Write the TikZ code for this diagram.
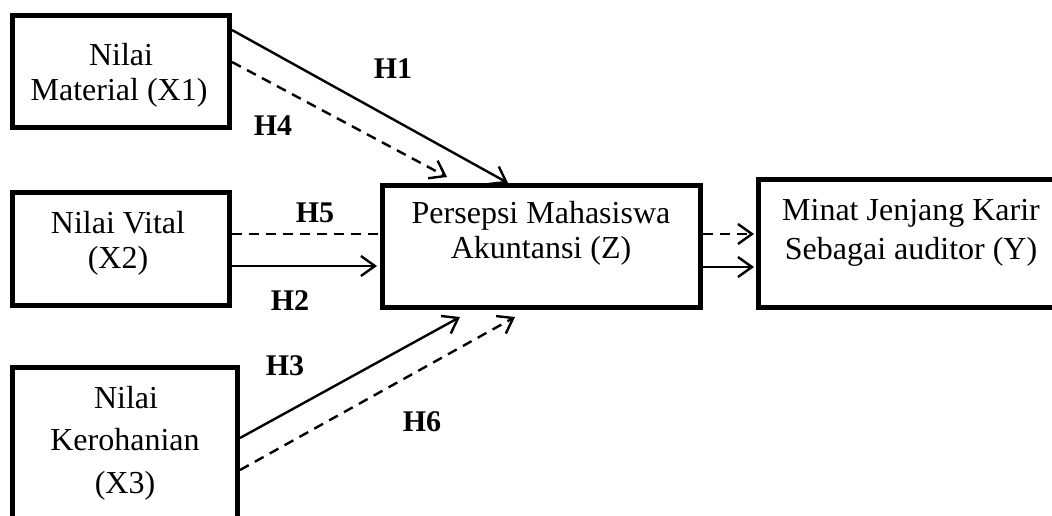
\documentclass[tikz,border=0pt]{standalone}
\usepackage{fontspec}
\setmainfont{Liberation Serif}
\usetikzlibrary{arrows.meta}
\begin{document}
\begin{tikzpicture}[x=0.5pt,y=-0.5pt,
  box/.style={draw, line width=2.5pt, inner sep=0pt},
  txt/.style={font=\fontsize{16}{19}\selectfont, anchor=base, inner sep=0pt},
  hyp/.style={font=\fontsize{15}{17}\selectfont\bfseries, inner sep=0pt},
  conn/.style={line width=1.2pt, -{Straight Barb[length=7pt,width=10pt,line width=1.2pt]}},
  dconn/.style={conn, dash pattern=on 5pt off 3.5pt},
  dline/.style={line width=1.2pt, dash pattern=on 5pt off 3.5pt},
]
\useasboundingbox (0,0) rectangle (1052,515);
\clip (0,0) rectangle (1052,515);

% boxes
\node[box, minimum width=108.5pt, minimum height=56pt] (X1) at (121,71.5) {};
\node[box, minimum width=108.5pt, minimum height=56.5pt] (X2) at (121,249) {};
\node[box, minimum width=112.5pt, minimum height=96.25pt] (X3) at (125,463.75) {};
\node[box, minimum width=159pt, minimum height=61pt] (Z) at (541.5,246.5) {};
\node[box, minimum width=155.75pt, minimum height=64pt] (Y) at (914.25,243.5) {};

% texts
\node[txt] (x1a) at (121,65) {Nilai};
\node[txt] (x1b) at (119,100) {Material (X1)};
\node[txt] (x2a) at (118,233) {Nilai Vital};
\node[txt] (x2b) at (118,268) {(X2)};
\node[txt] (x3a) at (126,408) {Nilai};
\node[txt] (x3b) at (125,450) {Kerohanian};
\node[txt] (x3c) at (125,493) {(X3)};
\node[txt] (za) at (541,223) {Persepsi Mahasiswa};
\node[txt] (zb) at (541,258) {Akuntansi (Z)};
\node[txt] (ya) at (911,220) {Minat Jenjang Karir};
\node[txt] (yb) at (911,259) {Sebagai auditor (Y)};

% connector end points
\coordinate (s1) at (232,30);   \coordinate (e1) at (508,183);
\coordinate (s4) at (232,62);   \coordinate (e4) at (447,177);
\coordinate (s5) at (232,234);  \coordinate (e5) at (380,234);
\coordinate (s2) at (232,266);  \coordinate (e2) at (377,266);
\coordinate (s3) at (240,438);  \coordinate (e3) at (460,317);
\coordinate (s6) at (240,470);  \coordinate (e6) at (515,317);
\coordinate (sa) at (703,234);  \coordinate (ea) at (754,234);
\coordinate (sb) at (703,267);  \coordinate (eb) at (754,267);

\draw[conn] (s1) -- (e1);
\draw[dconn] (s4) -- (e4);
\draw[dline] (s5) -- (e5);
\draw[conn] (s2) -- (e2);
\draw[conn] (s3) -- (e3);
\draw[dconn] (s6) -- (e6);
\draw[dconn] (sa) -- (ea);
\draw[conn] (sb) -- (eb);

% hypothesis labels
\node[hyp] (h1) at (393,69) {H1};
\node[hyp] (h4) at (273,126) {H4};
\node[hyp] (h5) at (315,213) {H5};
\node[hyp] (h2) at (290,301) {H2};
\node[hyp] (h3) at (285,366) {H3};
\node[hyp] (h6) at (422,422) {H6};
\end{tikzpicture}
\end{document}
